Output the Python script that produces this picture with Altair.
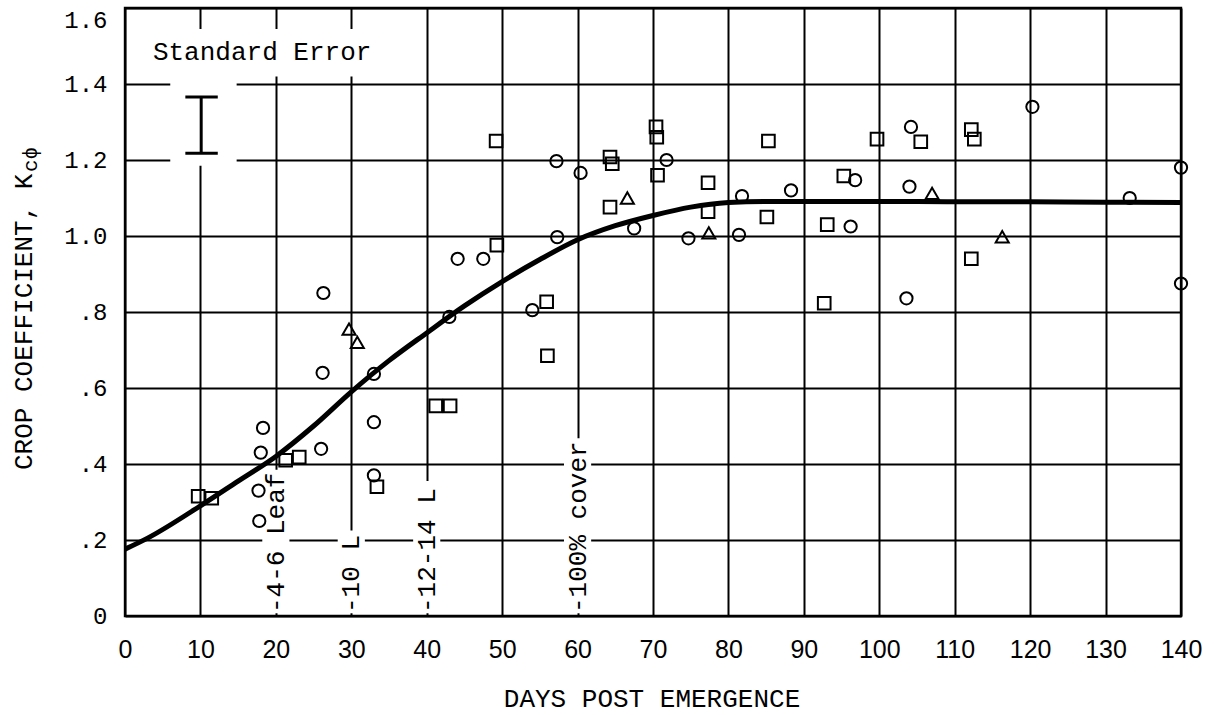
import altair as alt
import pandas as pd

# ---------------- data ----------------
curve_days = [0, 3, 10, 15, 20, 25, 30, 35, 40, 45, 50, 55, 60, 65, 70, 75, 80, 85, 90, 100, 110, 120, 130, 140]
curve_kc = [0.176, 0.205, 0.29, 0.355, 0.42, 0.50, 0.59, 0.672, 0.745, 0.816, 0.88, 0.938, 0.99, 1.027,
            1.054, 1.076, 1.088, 1.091, 1.091, 1.091, 1.09, 1.09, 1.089, 1.088]

circle_days = [17.8, 17.7, 18.0, 18.3, 26.0, 26.2, 26.3, 33.0, 33.0, 33.0, 43.0, 44.1, 47.5, 54.0, 57.2, 57.3,
               60.4, 67.5, 71.8, 74.7, 81.4, 81.8, 88.3, 96.2, 96.8, 103.6, 104.0, 104.2, 120.3, 133.2, 140.0, 140.0]
circle_kc = [0.25, 0.33, 0.43, 0.495, 0.44, 0.64, 0.85, 0.37, 0.51, 0.637, 0.787, 0.94, 0.94, 0.805, 1.197, 0.997,
             1.166, 1.02, 1.20, 0.994, 1.003, 1.105, 1.12, 1.025, 1.147, 0.836, 1.13, 1.287, 1.34, 1.10, 1.18, 0.875]

square_days = [9.7, 11.5, 21.3, 23.1, 33.4, 41.2, 43.1, 49.2, 49.3, 55.9, 56.0, 64.3, 64.6, 64.3, 70.4, 70.5,
               70.6, 77.3, 77.3, 85.3, 85.1, 92.7, 93.1, 95.3, 99.7, 105.5, 112.2, 112.6, 112.2]
square_kc = [0.315, 0.31, 0.41, 0.418, 0.34, 0.553, 0.553, 1.25, 0.976, 0.827, 0.685, 1.208, 1.19, 1.076, 1.287, 1.26,
             1.16, 1.14, 1.064, 1.25, 1.05, 0.823, 1.03, 1.158, 1.255, 1.248, 1.28, 1.255, 0.94]

tri_days = [29.7, 30.8, 66.6, 77.4, 107.0, 116.3]
tri_kc = [0.755, 0.72, 1.10, 1.008, 1.112, 0.998]

stage_days = [20, 30, 40, 60]
stage_text = ["-4-6 Leaf", "-10 L", "-12-14 L", "-100% cover"]
stage_top = [0.385, 0.225, 0.355, 0.468]

x_ticks = list(range(0, 150, 10))
y_ticks = [0, 0.2, 0.4, 0.6, 0.8, 1.0, 1.2, 1.4, 1.6]

# standard error bar
se_day = [10.1]
se_lo = [1.218]
se_hi = [1.366]

# ---------------- tables ----------------
curve_df = pd.DataFrame({"day": curve_days, "kc": curve_kc})
points_df = pd.concat([
    pd.DataFrame({"day": circle_days, "kc": circle_kc, "kind": "circle"}),
    pd.DataFrame({"day": square_days, "kc": square_kc, "kind": "square"}),
    pd.DataFrame({"day": tri_days, "kc": tri_kc, "kind": "triangle"}),
], ignore_index=True)
stage_df = pd.DataFrame({"day": stage_days, "label": stage_text, "top": stage_top})
stage_df["kc"] = 0.0
stage_df["lo"] = stage_df["day"] - 1.8
stage_df["hi"] = stage_df["day"] + 1.8
stage_df["bottom"] = 0.007

se_mask_df = pd.DataFrame({"lo": [1.0, 6.0], "hi": [33.0, 14.8], "bottom": [1.42, 1.185], "top": [1.545, 1.545]})
se_df = pd.DataFrame({"day": se_day, "kc": se_lo, "kc2": se_hi})
se_caps = pd.DataFrame({"lo": [se_day[0] - 2.1, se_day[0] - 2.1], "hi": [se_day[0] + 2.2, se_day[0] + 2.2],
                        "kc": [se_lo[0], se_hi[0]]})
se_text = pd.DataFrame({"day": [3.7], "kc": [1.484], "t": ["Standard Error"]})

# ---------------- scales / axes ----------------
xs = alt.Scale(domain=[0, 140], nice=False, zero=False)
ys = alt.Scale(domain=[0, 1.6], nice=False, zero=False)

x_axis = alt.Axis(values=x_ticks, grid=True, gridColor="black", gridWidth=2, gridOpacity=1,
                  ticks=False, domain=False, labelFont="Liberation Sans", labelFontSize=25,
                  labelColor="black", labelPadding=21, labelAngle=0, labelFlush=False,
                  labelOverlap=False, title=None)
y_axis = alt.Axis(values=y_ticks, grid=True, gridColor="black", gridWidth=2, gridOpacity=1,
                  ticks=False, domain=False, labelFont="Liberation Mono", labelFontSize=24,
                  labelColor="black", labelPadding=18, labelOverlap=False, labelFlush=False,
                  labelExpr="datum.value == 0 ? '0' : (datum.value < 1 ? replace(format(datum.value, '.1f'), '0.', '.') : format(datum.value, '.1f'))",
                  labelBaseline={"condition": {"test": "datum.value > 1.5", "value": "top"}, "value": "middle"},
                  title=None)


def X(f):
    return alt.X(f"{f}:Q", scale=xs, axis=x_axis, title=None)


def Y(f):
    return alt.Y(f"{f}:Q", scale=ys, axis=y_axis, title=None)


# ---------------- layers ----------------
stage_masks = alt.Chart(stage_df).mark_rect(color="white").encode(
    x=X("lo"), x2="hi", y=Y("bottom"), y2="top")
se_masks = alt.Chart(se_mask_df).mark_rect(color="white").encode(
    x=X("lo"), x2="hi", y=Y("bottom"), y2="top")

curve = alt.Chart(curve_df).mark_line(color="black", strokeWidth=5, interpolate="monotone").encode(
    x=X("day"), y=Y("kc"))

pts = alt.Chart(points_df).mark_point(filled=False, color="black", strokeWidth=2, opacity=1).encode(
    x=X("day"), y=Y("kc"),
    shape=alt.Shape("kind:N", scale=alt.Scale(domain=["circle", "square", "triangle"],
                                              range=["circle", "square", "triangle-up"]), legend=None),
    size=alt.Size("kind:N", scale=alt.Scale(domain=["circle", "square", "triangle"],
                                            range=[150, 170, 240]), legend=None),
)

stage_labels = alt.Chart(stage_df).mark_text(
    angle=270, align="left", baseline="middle", dx=3, font="Liberation Mono", fontSize=26, color="black"
).encode(x=X("day"), y=Y("kc"), text="label:N")

se_bar = alt.Chart(se_df).mark_rule(color="black", strokeWidth=3).encode(x=X("day"), y=Y("kc"), y2="kc2")
se_cap = alt.Chart(se_caps).mark_rule(color="black", strokeWidth=3).encode(x=X("lo"), x2="hi", y=Y("kc"))
se_label = alt.Chart(se_text).mark_text(
    align="left", baseline="middle", font="Liberation Mono", fontSize=26, color="black"
).encode(x=X("day"), y=Y("kc"), text="t:N")

ytitle = alt.Chart(pd.DataFrame({"t": ["CROP COEFFICIENT, K"]})).mark_text(
    angle=270, align="left", baseline="middle", font="Liberation Mono", fontSize=26, color="black"
).encode(x=alt.value(-101), y=alt.value(462), text="t:N")
ysub = alt.Chart(pd.DataFrame({"t": ["cϕ"]})).mark_text(
    angle=270, align="left", baseline="middle", font="Liberation Mono", fontSize=21, color="black"
).encode(x=alt.value(-94), y=alt.value(164), text="t:N")
xtitle = alt.Chart(pd.DataFrame({"t": ["DAYS POST EMERGENCE"]})).mark_text(
    align="center", baseline="middle", font="Liberation Mono", fontSize=26, color="black"
).encode(x=alt.value(527), y=alt.value(691), text="t:N")

chart = alt.layer(
    stage_masks, se_masks, curve, pts, stage_labels, se_bar, se_cap, se_label, ytitle, ysub, xtitle
).properties(
    width=1056, height=608,
    padding={"left": 125, "top": 8, "right": 34, "bottom": 99},
    autosize=alt.AutoSizeParams(type="none"),
    background="white",
).configure_view(stroke="black", strokeWidth=2.4)

chart.save("out.html", embed_options={"renderer": "svg", "actions": False})
